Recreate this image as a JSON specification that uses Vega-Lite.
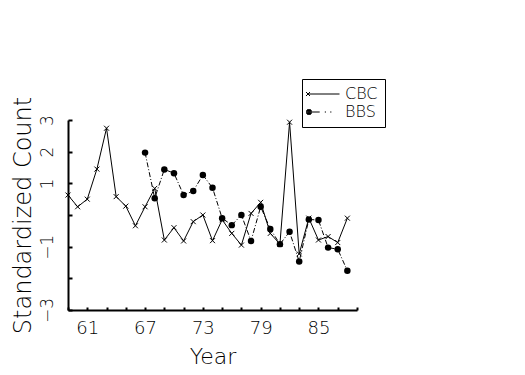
{
  "$schema": "https://vega.github.io/schema/vega-lite/v6.json",
  "width": 289,
  "height": 190,
  "autosize": {"type": "none"},
  "padding": {"left": 68, "top": 120, "right": 168, "bottom": 65},
  "background": "white",
  "config": {
    "view": {"stroke": null},
    "font": "DejaVu Sans",
    "axis": {"labelFont": "DejaVu Sans", "titleFont": "DejaVu Sans", "labelFontWeight": 200, "titleFontWeight": 200, "labelColor": "black", "titleColor": "black", "domainColor": "black", "tickColor": "black", "grid": false},
    "legend": {"labelFont": "DejaVu Sans", "labelFontWeight": 200}
  },
  "data": {
    "values": [
      {"year": 59, "value": 0.63, "series": "CBC"},
      {"year": 60, "value": 0.26, "series": "CBC"},
      {"year": 61, "value": 0.5, "series": "CBC"},
      {"year": 62, "value": 1.45, "series": "CBC"},
      {"year": 63, "value": 2.74, "series": "CBC"},
      {"year": 64, "value": 0.58, "series": "CBC"},
      {"year": 65, "value": 0.28, "series": "CBC"},
      {"year": 66, "value": -0.34, "series": "CBC"},
      {"year": 67, "value": 0.26, "series": "CBC"},
      {"year": 68, "value": 0.84, "series": "CBC"},
      {"year": 69, "value": -0.79, "series": "CBC"},
      {"year": 70, "value": -0.4, "series": "CBC"},
      {"year": 71, "value": -0.82, "series": "CBC"},
      {"year": 72, "value": -0.21, "series": "CBC"},
      {"year": 73, "value": 0.0, "series": "CBC"},
      {"year": 74, "value": -0.81, "series": "CBC"},
      {"year": 75, "value": -0.15, "series": "CBC"},
      {"year": 76, "value": -0.58, "series": "CBC"},
      {"year": 77, "value": -0.95, "series": "CBC"},
      {"year": 78, "value": 0.05, "series": "CBC"},
      {"year": 79, "value": 0.4, "series": "CBC"},
      {"year": 80, "value": -0.58, "series": "CBC"},
      {"year": 81, "value": -0.92, "series": "CBC"},
      {"year": 82, "value": 2.93, "series": "CBC"},
      {"year": 83, "value": -1.23, "series": "CBC"},
      {"year": 84, "value": -0.1, "series": "CBC"},
      {"year": 85, "value": -0.79, "series": "CBC"},
      {"year": 86, "value": -0.68, "series": "CBC"},
      {"year": 87, "value": -0.87, "series": "CBC"},
      {"year": 88, "value": -0.1, "series": "CBC"},
      {"year": 67, "value": 1.97, "series": "BBS"},
      {"year": 68, "value": 0.53, "series": "BBS"},
      {"year": 69, "value": 1.44, "series": "BBS"},
      {"year": 70, "value": 1.32, "series": "BBS"},
      {"year": 71, "value": 0.63, "series": "BBS"},
      {"year": 72, "value": 0.76, "series": "BBS"},
      {"year": 73, "value": 1.26, "series": "BBS"},
      {"year": 74, "value": 0.86, "series": "BBS"},
      {"year": 75, "value": -0.1, "series": "BBS"},
      {"year": 76, "value": -0.32, "series": "BBS"},
      {"year": 77, "value": 0.0, "series": "BBS"},
      {"year": 78, "value": -0.82, "series": "BBS"},
      {"year": 79, "value": 0.26, "series": "BBS"},
      {"year": 80, "value": -0.44, "series": "BBS"},
      {"year": 81, "value": -0.92, "series": "BBS"},
      {"year": 82, "value": -0.53, "series": "BBS"},
      {"year": 83, "value": -1.47, "series": "BBS"},
      {"year": 84, "value": -0.14, "series": "BBS"},
      {"year": 85, "value": -0.16, "series": "BBS"},
      {"year": 86, "value": -1.03, "series": "BBS"},
      {"year": 87, "value": -1.08, "series": "BBS"},
      {"year": 88, "value": -1.76, "series": "BBS"}
    ]
  },
  "encoding": {
    "x": {
      "field": "year", "type": "quantitative",
      "scale": {"domain": [59, 89], "nice": false, "zero": false},
      "axis": {
        "title": "Year",
        "values": [59, 61, 63, 65, 67, 69, 71, 73, 75, 77, 79, 81, 83, 85, 87, 89],
        "labelExpr": "indexof([61,67,73,79,85], datum.value) >= 0 ? datum.label : ''",
        "labelFontSize": 18, "labelPadding": 12, "labelFlush": false,
        "tickSize": -3, "tickWidth": 2, "domainWidth": 2,
        "titleFontSize": 22, "titleX": 144.5, "titleY": 53, "titleBaseline": "alphabetic", "titleAlign": "center"
      }
    },
    "y": {
      "field": "value", "type": "quantitative",
      "scale": {"domain": [-3, 3], "nice": false, "zero": false},
      "axis": {
        "title": "Standardized Count",
        "values": [-3, -2, -1, 0, 1, 2, 3],
        "labelExpr": "indexof([3,2,1,-1,-3], datum.value) >= 0 ? datum.label : ''",
        "labelFontSize": 17, "labelAngle": 270, "labelAlign": "center", "labelBaseline": "bottom", "labelPadding": 16, "labelFlush": false,
        "tickSize": -4, "tickWidth": 2, "domainWidth": 2,
        "titleFontSize": 24, "titleAngle": 270, "titleX": -45, "titleY": 95, "titleAlign": "center", "titleBaseline": "middle"
      }
    }
  },
  "layer": [
    {
      "transform": [{"filter": "datum.series === 'CBC'"}],
      "mark": {"type": "line", "color": "black", "strokeWidth": 1},
      "encoding": {}
    },
    {
      "transform": [{"filter": "datum.series === 'BBS'"}],
      "mark": {"type": "line", "color": "black", "strokeWidth": 1, "strokeDash": [5, 2, 1, 2]},
      "encoding": {}
    },
    {
      "transform": [{"filter": "datum.series === 'CBC'"}],
      "mark": {"type": "point", "filled": false, "color": "black", "strokeWidth": 1, "opacity": 1, "size": 25, "shape": "M-1,-1L1,1M-1,1L1,-1"}
    },
    {
      "transform": [{"filter": "datum.series === 'BBS'"}],
      "mark": {"type": "point", "filled": true, "color": "black", "opacity": 1, "size": 42, "shape": "circle"}
    },
    {
      "transform": [{"filter": "false"}],
      "mark": {"type": "point", "filled": false, "color": "black", "strokeWidth": 1},
      "encoding": {
        "shape": {
          "field": "series", "type": "nominal",
          "scale": {
            "domain": ["CBC", "BBS"],
            "range": [
              "M-3.4,-0.4L-2.6,0.4M-3.4,0.4L-2.6,-0.4M-3,0L3.3,0",
              "M-2.8,-0.6L-2.8,0.6M-3.2,-0.45L-2.4,-0.45M-3.32,-0.3L-2.28,-0.3M-3.38,-0.15L-2.22,-0.15M-3.4,0L-0.66,0M-3.38,0.15L-2.22,0.15M-3.32,0.3L-2.28,0.3M-3.2,0.45L-2.4,0.45M0.36,0L0.6,0M1.44,0L1.68,0"
            ]
          },
          "legend": {
            "title": null,
            "orient": "none", "legendX": 234, "legendY": -41,
            "strokeColor": "black", "padding": 7,
            "symbolSize": 100, "symbolOffset": 6, "symbolStrokeWidth": 1, "symbolOpacity": 1,
            "labelFontSize": 16, "labelOffset": 14, "labelColor": "black",
            "rowPadding": 2
          }
        }
      }
    }
  ]
}
